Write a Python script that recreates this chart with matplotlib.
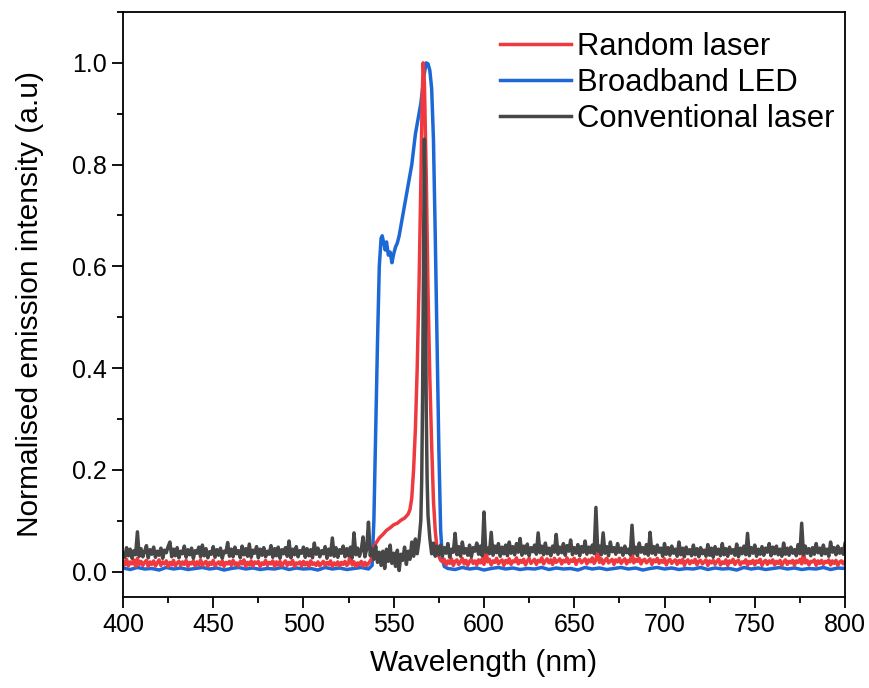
import numpy as np
import matplotlib
matplotlib.use("Agg")
import matplotlib.pyplot as plt
from matplotlib.ticker import MultipleLocator

plt.rcParams["font.family"] = ["Liberation Sans", "DejaVu Sans"]

# Conventional laser (dark grey), 400-537 nm every 1 nm
grey_a = [.036, .028, .047, .031, .044, .026, .041, .033, .078, .030,
          .045, .029, .039, .051, .027, .043, .034, .048, .028, .040,
          .032, .046, .026, .042, .037, .049, .058, .029, .044, .031,
          .047, .027, .040, .035, .050, .028, .043, .033, .046, .026,
          .041, .036, .048, .029, .052, .031, .045, .027, .039, .034,
          .049, .028, .043, .032, .046, .026, .040, .037, .057, .030,
          .044, .029, .048, .035, .041, .027, .050, .033, .045, .030,
          .054, .028, .042, .036, .049, .027, .044, .032, .047, .029,
          .040, .034, .051, .028, .045, .031, .048, .026, .043, .035,
          .047, .030, .060, .027, .044, .033, .049, .029, .041, .036,
          .048, .028, .045, .031, .043, .027, .056, .034, .046, .029,
          .041, .035, .049, .026, .044, .032, .066, .030, .047, .028,
          .043, .036, .050, .029, .045, .031, .048, .027, .076, .033,
          .046, .030, .042, .068, .029, .044, .097, .031]
# around the emission peak
grey_pk_nm = [538, 539, 540, 541, 542, 543, 544, 545, 546, 547, 548, 549, 550,
              551, 552, 553, 554, 555, 556, 557, 558, 559, 560, 561, 562, 563,
              564, 565, 565.5, 566, 566.5, 567, 567.5, 568, 568.5, 569, 570,
              571, 572, 573, 574, 575]
grey_pk = [.045, .024, .050, .018, .038, .012, .040, .006, .044, .020, .052,
           .016, .036, .010, .042, .002, .034, .022, .048, .014, .040, .024,
           .058, .030, .064, .035, .060, .10, .18, .35, .62, .85, .62, .32,
           .18, .11, .065, .035, .056, .030, .050, .033]
# 576-800 nm every 1 nm
grey_b = [.052, .031, .047, .036, .055, .028, .044, .038, .075, .033,
          .049, .030, .058, .036, .045, .032, .052, .029, .047, .040,
          .056, .034, .050, .031, .117, .038, .046, .035, .077, .032,
          .050, .037, .055, .030, .048, .035, .052, .031, .058, .036,
          .049, .033, .055, .038, .065, .032, .050, .036, .054, .031,
          .047, .039, .052, .034, .076, .037, .050, .033, .056, .035,
          .046, .031, .050, .038, .073, .034, .048, .037, .055, .032,
          .051, .040, .062, .033, .047, .036, .053, .031, .049, .038,
          .060, .034, .048, .037, .052, .035, .126, .040, .050, .033,
          .076, .036, .049, .031, .058, .039, .047, .034, .055, .038,
          .046, .032, .050, .037, .044, .033, .091, .036, .048, .031,
          .056, .038, .047, .035, .053, .032, .077, .036, .049, .033,
          .052, .038, .046, .030, .055, .034, .047, .032, .050, .036,
          .044, .030, .058, .033, .046, .029, .048, .035, .043, .031,
          .052, .033, .045, .029, .047, .035, .042, .030, .053, .032,
          .046, .028, .049, .034, .044, .031, .055, .033, .045, .030,
          .048, .036, .043, .032, .054, .029, .046, .035, .050, .033,
          .075, .031, .047, .036, .052, .030, .044, .034, .049, .032,
          .046, .038, .055, .031, .048, .035, .050, .033, .044, .030,
          .056, .034, .046, .032, .048, .036, .043, .031, .053, .035,
          .095, .033, .050, .036, .045, .031, .047, .034, .055, .037,
          .046, .032, .052, .035, .044, .030, .058, .038, .047, .033,
          .050, .036, .045, .034, .055]

# Random laser (red), 400-537 nm every 1 nm
red_a = [.021, .013, .024, .011, .019, .015, .023, .010, .026, .014,
         .020, .012, .018, .022, .010, .019, .014, .021, .011, .017,
         .023, .012, .019, .015, .021, .010, .018, .013, .022, .011,
         .017, .020, .012, .019, .014, .022, .010, .018, .015, .021,
         .011, .019, .013, .023, .012, .017, .020, .010, .018, .014,
         .022, .011, .016, .019, .013, .021, .010, .018, .015, .020,
         .012, .022, .014, .017, .011, .020, .015, .023, .010, .018,
         .013, .021, .011, .019, .016, .020, .010, .017, .014, .022,
         .012, .018, .015, .021, .010, .019, .013, .020, .011, .017,
         .021, .012, .018, .014, .022, .010, .017, .015, .019, .011,
         .020, .013, .018, .010, .021, .014, .017, .012, .019, .011,
         .016, .020, .012, .018, .014, .021, .010, .017, .013, .019,
         .011, .018, .014, .020, .012, .016, .040, .013, .019, .010,
         .017, .014, .020, .011, .018, .012, .016, .021]
red_pk_nm = [538, 539, 540, 542, 544, 546, 548, 550, 552, 554, 556, 558, 559,
             560, 561, 562, 563, 564, 565, 565.7, 566.3, 567, 568, 569, 570,
             571, 572, 573, 574, 575, 576]
red_pk = [.028, .048, .055, .066, .073, .081, .086, .092, .095, .101, .105,
          .113, .122, .145, .20, .28, .40, .56, .76, .92, 1.0, .96, .78, .55,
          .38, .25, .14, .080, .045, .030, .022]
# 577-800 nm every 1 nm
red_b = [.019, .024, .013, .021, .016, .025, .012, .020, .023, .014,
         .019, .026, .015, .022, .012, .020, .024, .016, .021, .013,
         .023, .017, .025, .014, .045, .019, .024, .013, .021, .018,
         .026, .015, .020, .023, .012, .022, .017, .025, .014, .021,
         .019, .027, .015, .022, .018, .024, .013, .021, .026, .016,
         .020, .024, .014, .022, .019, .027, .015, .021, .025, .017,
         .023, .014, .026, .018, .021, .025, .015, .022, .019, .027,
         .016, .023, .020, .026, .014, .022, .024, .017, .021, .025,
         .015, .023, .019, .027, .016, .022, .047, .018, .025, .015,
         .022, .026, .017, .021, .024, .014, .023, .019, .026, .016,
         .021, .025, .015, .022, .019, .038, .017, .024, .020, .026,
         .015, .022, .024, .017, .021, .025, .014, .023, .019, .026,
         .016, .022, .018, .025, .013, .021, .024, .016, .020, .023,
         .014, .022, .017, .024, .012, .020, .023, .015, .021, .018,
         .024, .013, .020, .022, .015, .019, .023, .012, .021, .017,
         .022, .014, .020, .024, .013, .019, .016, .023, .012, .021,
         .018, .024, .014, .020, .022, .013, .019, .017, .023, .012,
         .020, .016, .022, .013, .021, .018, .024, .012, .019, .022,
         .014, .021, .017, .023, .013, .020, .016, .022, .012, .019,
         .023, .014, .020, .017, .022, .012, .021, .018, .024, .015,
         .038, .017, .022, .013, .020, .019, .023, .012, .021, .016,
         .022, .014, .020, .018, .023, .013, .021, .016, .022, .012,
         .019, .021, .015, .020]

# Broadband LED (blue), baseline every 4 nm
blue_a = [.007, .004, .008, .005, .006, .003, .008, .005, .007, .004,
          .006, .008, .005, .007, .003, .006, .008, .005, .007, .004,
          .006, .005, .008, .004, .007, .005, .006, .003, .008, .005,
          .007, .004, .006, .008, .005]
blue_pk_nm = [538, 539, 540, 541, 542, 543, 543.6, 544.5, 545.3, 546, 547, 548,
              549, 550, 551, 552, 553, 554, 555, 556, 557, 558, 559, 560, 561,
              562, 563, 564, 565, 566, 567, 568, 569, 570, 571, 572, 573, 574,
              575, 576, 577, 578]
blue_pk = [.012, .10, .28, .45, .60, .655, .66, .645, .632, .648, .622, .628,
           .607, .625, .638, .646, .66, .68, .70, .72, .74, .76, .78, .80, .83,
           .86, .88, .90, .92, .95, .98, 1.0, .998, .985, .95, .85, .66, .45,
           .24, .08, .025, .010]
blue_b = [.006, .004, .008, .005, .007, .003, .006, .008, .005, .007,
          .004, .006, .005, .008, .004, .007, .005, .006, .003, .008,
          .005, .007, .004, .006, .008, .005, .007, .003, .006, .008,
          .005, .007, .004, .006, .005, .008, .004, .007, .005, .006,
          .003, .008, .005, .007, .004, .006, .008, .005, .007, .004,
          .006, .005, .008, .004, .007, .006]


def join(start_a, step_a, a, pk_nm, pk, start_b, step_b, b):
    x = np.concatenate([start_a + step_a * np.arange(len(a)), pk_nm,
                        start_b + step_b * np.arange(len(b))])
    y = np.concatenate([a, pk, b])
    return x, y


grey_x, grey_y = join(400, 1, grey_a, grey_pk_nm, grey_pk, 576, 1, grey_b)
red_x, red_y = join(400, 1, red_a, red_pk_nm, red_pk, 577, 1, red_b)
blue_x, blue_y = join(400, 4, blue_a, blue_pk_nm, blue_pk, 580, 4, blue_b)

fig = plt.figure(figsize=(8.69, 6.88), dpi=100)
ax = fig.add_axes([0.1415, 0.1323, 0.8309, 0.8503])

lw = 2.5
lb, = ax.plot(blue_x, blue_y, color="#1c68d6", lw=lw, label="Broadband LED")
lr, = ax.plot(red_x, red_y, color="#ee3a3e", lw=lw, label="Random laser")
lg, = ax.plot(grey_x, grey_y, color="#474747", lw=lw, label="Conventional laser")

ax.set_xlim(400, 800)
ax.set_ylim(-0.05, 1.1)
ax.xaxis.set_major_locator(MultipleLocator(50))
ax.xaxis.set_minor_locator(MultipleLocator(25))
ax.yaxis.set_major_locator(MultipleLocator(0.2))
ax.yaxis.set_minor_locator(MultipleLocator(0.1))
ax.yaxis.set_major_formatter(plt.FuncFormatter(lambda v, _: f"{v:.1f}"))

ax.tick_params(which="both", direction="out", width=1.3, labelsize=18,
               top=False, right=False)
ax.tick_params(which="major", length=8)
ax.tick_params(which="minor", length=4.5)
for s in ax.spines.values():
    s.set_linewidth(1.3)

ax.set_xlabel("Wavelength (nm)", fontsize=21.5, labelpad=9)
ax.set_ylabel("Normalised emission intensity (a.u)", fontsize=21.5, labelpad=20)

ax.legend(handles=[lr, lb, lg], loc="upper left", bbox_to_anchor=(0.522, 0.966),
          frameon=False, fontsize=22.3, handlelength=2.3, handletextpad=0.2,
          labelspacing=0.2, borderpad=0, borderaxespad=0)

fig.savefig("out.png", dpi=100)
